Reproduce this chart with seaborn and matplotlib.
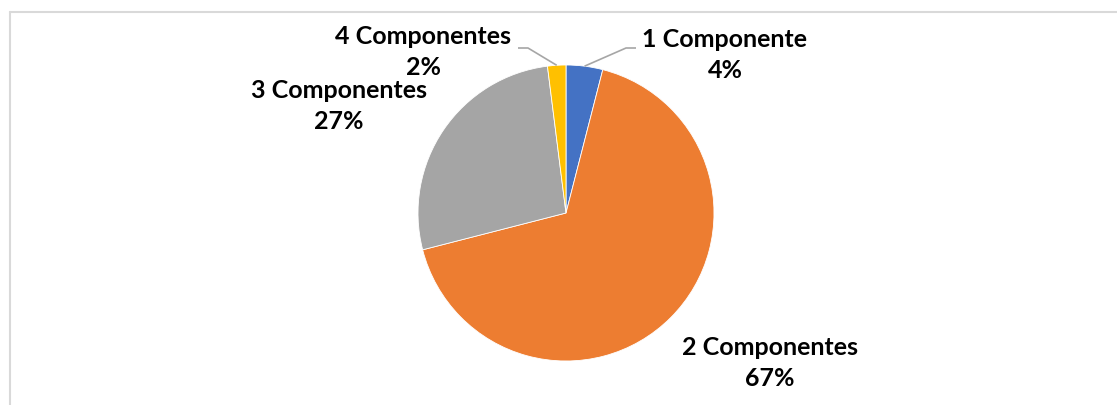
import numpy as np
import matplotlib
matplotlib.use("Agg")
import matplotlib.pyplot as plt
import seaborn as sns
from matplotlib.lines import Line2D

# datos del gráfico
categorias = ["1 Componente", "2 Componentes", "3 Componentes", "4 Componentes"]
porcentajes = [4, 67, 27, 2]
etiquetas_pct = ["4%", "67%", "27%", "2%"]

colores = ["#4472C4", "#ED7D31", "#A5A5A5", "#FFC000"]

sns.set_theme(style="white")
plt.rcParams["font.family"] = ["Lato", "DejaVu Sans"]

W, H = 1117, 405
cx, cy, R = 566, 213, 148  # centro y radio del pastel en pixeles

fig = plt.figure(figsize=(W / 100, H / 100), dpi=100)
ax = fig.add_axes([0, 0, 1, 1])

wedges, _ = ax.pie(
    porcentajes,
    colors=colores,
    startangle=90,
    counterclock=False,
    radius=1,
    wedgeprops=dict(linewidth=0.6, edgecolor="white"),
)

# pie() fija sus propios limites, se cambian despues
ax.set_xlim(-cx / R, (W - cx) / R)
ax.set_ylim(-(H - cy) / R, cy / R)
ax.set_aspect("equal")
ax.axis("off")


def px(x, y):
    return (x - cx) / R, (cy - y) / R


# posiciones de las etiquetas (pixeles del centro del texto)
pos_etiquetas = [(725, 55), (770, 363), (339, 106), (423, 52)]
# codos de las lineas guia (solo para los sectores pequeños)
codos = {0: [(626, 48), (636, 48)], 3: [(528, 48), (518, 48)]}

for i, w in enumerate(wedges):
    ang = np.deg2rad((w.theta1 + w.theta2) / 2)
    x0, y0 = np.cos(ang), np.sin(ang)
    tx, ty = px(*pos_etiquetas[i])
    ax.text(tx, ty, f"{categorias[i]}\n{etiquetas_pct[i]}", ha="center", va="center",
            fontsize=18, fontweight="bold", color="black", linespacing=1.43)
    if i in codos:
        pts = [(x0, y0)] + [px(*p) for p in codos[i]]
        xs, ys = zip(*pts)
        ax.plot(xs, ys, color="#a6a6a6", lw=1.2, solid_capstyle="butt")

# marco del área del gráfico
fig.add_artist(Line2D([10 / W, 10 / W], [0, 1 - 12 / H], transform=fig.transFigure,
                      color="#d9d9d9", lw=1.5))
fig.add_artist(Line2D([10 / W, 1], [1 - 12 / H, 1 - 12 / H], transform=fig.transFigure,
                      color="#d9d9d9", lw=1.5))

fig.savefig("out.png", dpi=100, facecolor="white")
